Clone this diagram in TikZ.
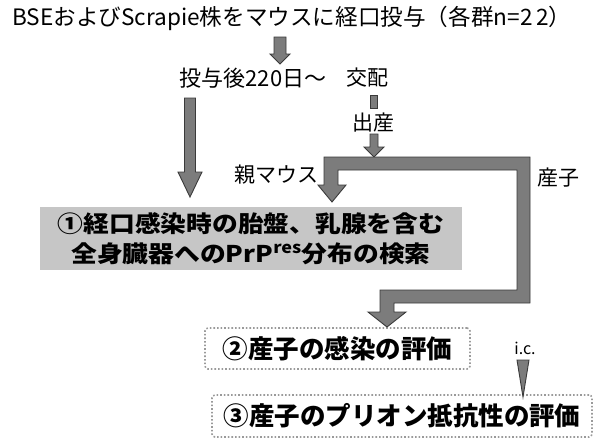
\documentclass[tikz,border=0pt]{standalone}
\usepackage{fontspec}
\setmainfont{Noto Sans CJK JP}
\newfontfamily\boxfont[FakeStretch=1.12]{Noto Sans CJK JP}
\definecolor{arrowgray}{HTML}{7C7C7C}
\definecolor{arrowdark}{HTML}{3A3A3A}
\definecolor{boxgray}{HTML}{C6C6C6}
\definecolor{dotgray}{HTML}{9A9A9A}
\newcommand\blkdown[6]{%
  \draw[blk] ({#1-#4},#2) -- ({#1+#4},#2) -- ({#1+#4},{#3-#6}) -- ({#1+#5},{#3-#6})
    -- (#1,#3) -- ({#1-#5},{#3-#6}) -- ({#1-#4},{#3-#6}) -- cycle;}
\begin{document}
\begin{tikzpicture}[x=1pt,y=-1pt,
  blk/.style={fill=arrowgray,draw=arrowdark,line width=0.9pt,line join=miter},
  lbl/.style={inner sep=0pt,font=\fontsize{21}{21}\selectfont},
  graybox/.style={fill=boxgray,inner sep=0pt,align=center,
    font=\boxfont\bfseries\fontsize{23}{30}\selectfont},
  dotbox/.style={draw=dotgray,dotted,line width=1.6pt,rounded corners=3pt,inner sep=0pt,
    font=\bfseries\fontsize{25.5}{26}\selectfont}]
\useasboundingbox (0,0) rectangle (595,440);
% texts
\node[anchor=west,inner sep=0pt,font=\fontsize{22.6}{22.6}\selectfont] (title) at (12,18)
  {BSEおよびScrapie株をマウスに経口投与（各群n=2\,2）};
\node[lbl,font=\fontsize{22}{22}\selectfont] (t220) at (253,78) {投与後220日～};
\node[lbl] (kohai) at (367,78) {交配};
\node[lbl] (shussan) at (373,123) {出産};
\node[lbl] (oya) at (276,175) {親マウス};
\node[lbl] (sanshi) at (558,178) {産子};
\node[inner sep=0pt,font=\fontsize{16}{16}\selectfont] (ic) at (525,348) {i.c.};
% boxes
\node[graybox,minimum width=422pt,minimum height=63pt] (b1) at (251,238.5)
  {①経口感染時の胎盤、乳腺を含む\\全身臓器へのPrP\textsuperscript{res}分布の検索};
\node[dotbox,minimum width=265pt,minimum height=41pt] (b2) at (337.5,348.5)
  {②産子の感染の評価};
\node[dotbox,minimum width=380pt,minimum height=42pt] (b3) at (402,416)
  {③産子のプリオン抵抗性の評価};
% arrows
\blkdown{280}{37}{64}{6}{10}{10}
\blkdown{190}{98}{197}{5.5}{12}{25}
\draw[blk] (370,95) rectangle (377,108);
\blkdown{374}{134}{157}{4}{10}{10}
\draw[blk] (324,157) -- (530,157) -- (530,303) -- (394,303) -- (394,312) -- (406,312)
  -- (387,327) -- (368,312) -- (380,312) -- (380,290) -- (517,290) -- (517,170)
  -- (338,170) -- (338,185) -- (346,185) -- (332,202) -- (318,185) -- (324,185) -- cycle;
\draw[blk] (517,360) -- (529,360) -- (523,397) -- cycle;
\end{tikzpicture}
\end{document}
